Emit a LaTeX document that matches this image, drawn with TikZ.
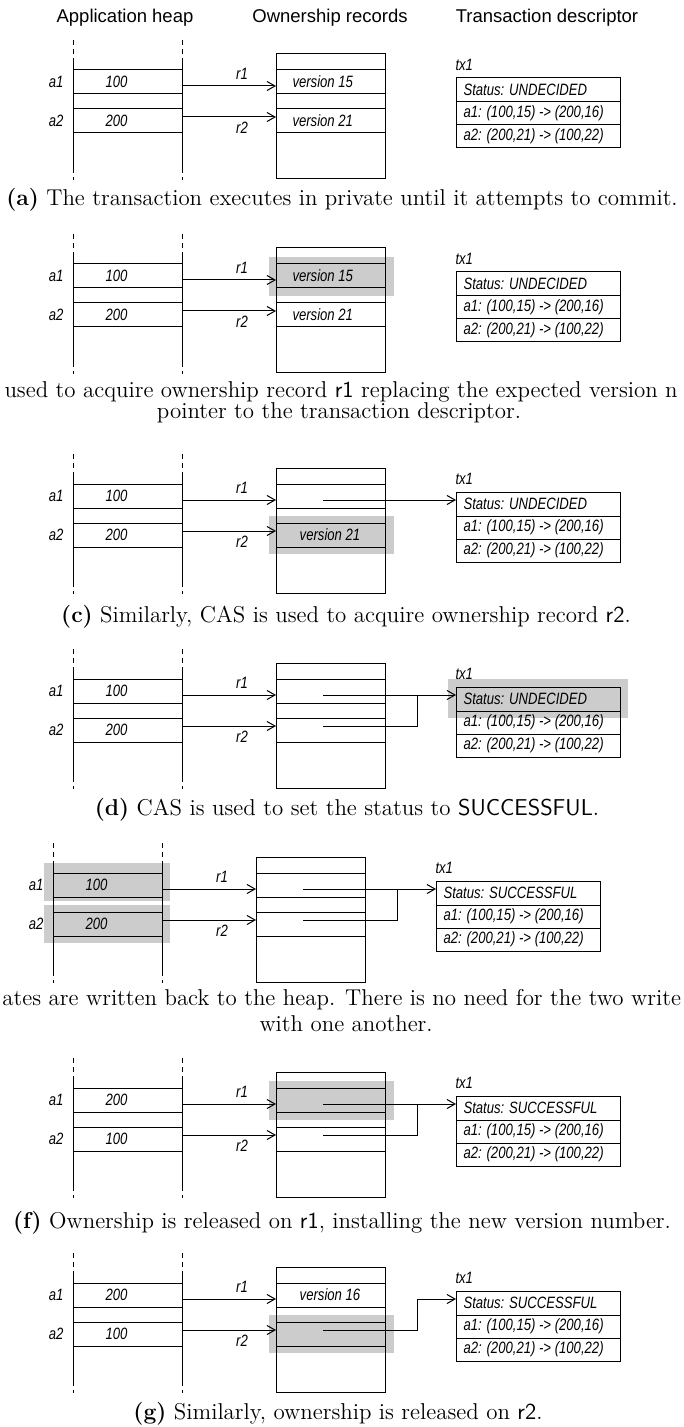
\documentclass[tikz,border=0pt]{standalone}
\usepackage{fontspec}
\newfontfamily\headfont{Liberation Sans}
\newfontfamily\cellfont[FakeStretch=0.8]{Liberation Sans}
\usetikzlibrary{arrows.meta}

\begin{document}
\begin{tikzpicture}
  [x=0.5pt,y=-0.5pt,line width=0.5pt,
  head/.style={font=\headfont\fontsize{9.25}{11}\selectfont,inner sep=0pt},
  lbl/.style={font=\cellfont\itshape\fontsize{8.2}{9.8}\selectfont,inner sep=0pt},
  capt/.style={font=\fontsize{11.45}{13.7}\selectfont,inner sep=0pt},
  gap/.style={dash pattern=on 2.5pt off 2pt},
  shade/.style={fill=black!20,draw=none},
  ptr/.style={-{Straight Barb[length=4pt,width=4.5pt]}}]

  \useasboundingbox (0,0) rectangle (684,1427);

  \node[head] (heap) at (125,18) {Application heap};
  \node[head] (orec) at (330,18) {Ownership records};
  \node[head] (desc) at (547,18) {Transaction descriptor};

  % (a) private execution
  \begin{scope}[name prefix=a-]
    \draw[gap] (73,40) -- (73,63) (182,40) -- (182,63) (73,168) -- (73,180) (182,168) -- (182,180);
    \draw (73,63) -- (73,168) (182,63) -- (182,168);
    \draw (73,70) -- (182,70) (73,94) -- (182,94) (73,109) -- (182,109) (73,133) -- (182,133);
    \node[lbl,anchor=east] (a1) at (64,82) {a1};
    \node[lbl,anchor=east] (a2) at (64,121) {a2};
    \node[lbl,anchor=west] (v1) at (105,82) {100};
    \node[lbl,anchor=west] (v2) at (105,121) {200};
    \draw (276,54) rectangle (385,179);
    \draw (276,70) -- (385,70) (276,94) -- (385,94) (276,109) -- (385,109) (276,133) -- (385,133);
    \node[lbl] (r1) at (242,74) {r1};
    \node[lbl] (r2) at (242,128) {r2};
    \node[lbl,anchor=west] (o1) at (292,82) {version 15};
    \node[lbl,anchor=west] (o2) at (292,121) {version 21};
    \coordinate (h1) at (182,86); \coordinate (h2) at (182,117);
    \coordinate (e1) at (276,86); \coordinate (e2) at (276,117);
    \draw[ptr] (h1) -- (e1);
    \draw[ptr] (h2) -- (e2);
    \node[lbl,anchor=west] (tx) at (455,65) {tx1};
    \draw (456,78) rectangle (620,148);
    \draw (456,102) -- (620,102) (456,125) -- (620,125);
    \node[lbl,anchor=west] (st) at (463,90) {Status: UNDECIDED};
    \node[lbl,anchor=west] (w1) at (463,113.5) {a1: (100,15) -> (200,16)};
    \node[lbl,anchor=west] (w2) at (463,136.5) {a2: (200,21) -> (100,22)};
  \end{scope}

  % (b) r1 acquired
  \begin{scope}[shift={(0,194)},name prefix=b-]
    \fill[shade] (269,63) rectangle (394,102);
    \draw[gap] (73,40) -- (73,63) (182,40) -- (182,63) (73,168) -- (73,180) (182,168) -- (182,180);
    \draw (73,63) -- (73,168) (182,63) -- (182,168);
    \draw (73,70) -- (182,70) (73,94) -- (182,94) (73,109) -- (182,109) (73,133) -- (182,133);
    \node[lbl,anchor=east] (a1) at (64,82) {a1};
    \node[lbl,anchor=east] (a2) at (64,121) {a2};
    \node[lbl,anchor=west] (v1) at (105,82) {100};
    \node[lbl,anchor=west] (v2) at (105,121) {200};
    \draw (276,54) rectangle (385,179);
    \draw (276,70) -- (385,70) (276,94) -- (385,94) (276,109) -- (385,109) (276,133) -- (385,133);
    \node[lbl] (r1) at (242,74) {r1};
    \node[lbl] (r2) at (242,128) {r2};
    \node[lbl,anchor=west] (o1) at (292,82) {version 15};
    \node[lbl,anchor=west] (o2) at (292,121) {version 21};
    \coordinate (h1) at (182,86); \coordinate (h2) at (182,117);
    \coordinate (e1) at (276,86); \coordinate (e2) at (276,117);
    \draw[ptr] (h1) -- (e1);
    \draw[ptr] (h2) -- (e2);
    \node[lbl,anchor=west] (tx) at (455,65) {tx1};
    \draw (456,78) rectangle (620,148);
    \draw (456,102) -- (620,102) (456,125) -- (620,125);
    \node[lbl,anchor=west] (st) at (463,90) {Status: UNDECIDED};
    \node[lbl,anchor=west] (w1) at (463,113.5) {a1: (100,15) -> (200,16)};
    \node[lbl,anchor=west] (w2) at (463,136.5) {a2: (200,21) -> (100,22)};
  \end{scope}

  % (c) r2 acquired
  \begin{scope}[shift={(0,414)},name prefix=c-]
    \fill[shade] (269,102) rectangle (394,140);
    \draw[gap] (73,40) -- (73,63) (182,40) -- (182,63) (73,168) -- (73,180) (182,168) -- (182,180);
    \draw (73,63) -- (73,168) (182,63) -- (182,168);
    \draw (73,70) -- (182,70) (73,94) -- (182,94) (73,109) -- (182,109) (73,133) -- (182,133);
    \node[lbl,anchor=east] (a1) at (64,82) {a1};
    \node[lbl,anchor=east] (a2) at (64,121) {a2};
    \node[lbl,anchor=west] (v1) at (105,82) {100};
    \node[lbl,anchor=west] (v2) at (105,121) {200};
    \draw (276,54) rectangle (385,179);
    \draw (276,70) -- (385,70) (276,94) -- (385,94) (276,109) -- (385,109) (276,133) -- (385,133);
    \node[lbl] (r1) at (242,74) {r1};
    \node[lbl] (r2) at (242,128) {r2};
    \node[lbl] (o2) at (330,121) {version 21};
    \coordinate (h1) at (182,86); \coordinate (h2) at (182,117);
    \coordinate (e1) at (276,86); \coordinate (e2) at (276,117);
    \coordinate (p1) at (323,86); \coordinate (t) at (456,86);
    \draw[ptr] (h1) -- (e1);
    \draw[ptr] (h2) -- (e2);
    \draw[ptr] (p1) -- (t);
    \node[lbl,anchor=west] (tx) at (455,65) {tx1};
    \draw (456,78) rectangle (620,148);
    \draw (456,102) -- (620,102) (456,125) -- (620,125);
    \node[lbl,anchor=west] (st) at (463,90) {Status: UNDECIDED};
    \node[lbl,anchor=west] (w1) at (463,113.5) {a1: (100,15) -> (200,16)};
    \node[lbl,anchor=west] (w2) at (463,136.5) {a2: (200,21) -> (100,22)};
  \end{scope}

  % (d) status set
  \begin{scope}[shift={(0,609)},name prefix=d-]
    \fill[shade] (448,70) rectangle (628,109);
    \draw[gap] (73,40) -- (73,63) (182,40) -- (182,63) (73,168) -- (73,180) (182,168) -- (182,180);
    \draw (73,63) -- (73,168) (182,63) -- (182,168);
    \draw (73,70) -- (182,70) (73,94) -- (182,94) (73,109) -- (182,109) (73,133) -- (182,133);
    \node[lbl,anchor=east] (a1) at (64,82) {a1};
    \node[lbl,anchor=east] (a2) at (64,121) {a2};
    \node[lbl,anchor=west] (v1) at (105,82) {100};
    \node[lbl,anchor=west] (v2) at (105,121) {200};
    \draw (276,54) rectangle (385,179);
    \draw (276,70) -- (385,70) (276,94) -- (385,94) (276,109) -- (385,109) (276,133) -- (385,133);
    \node[lbl] (r1) at (242,74) {r1};
    \node[lbl] (r2) at (242,128) {r2};
    \coordinate (h1) at (182,86); \coordinate (h2) at (182,117);
    \coordinate (e1) at (276,86); \coordinate (e2) at (276,117);
    \coordinate (p1) at (323,86); \coordinate (p2) at (323,117);
    \coordinate (j) at (417,86); \coordinate (t) at (456,86);
    \draw[ptr] (h1) -- (e1);
    \draw[ptr] (h2) -- (e2);
    \draw[ptr] (p1) -- (t);
    \draw (p2) -| (j);
    \node[lbl,anchor=west] (tx) at (455,65) {tx1};
    \draw (456,78) rectangle (620,148);
    \draw (456,102) -- (620,102) (456,125) -- (620,125);
    \node[lbl,anchor=west] (st) at (463,90) {Status: UNDECIDED};
    \node[lbl,anchor=west] (w1) at (463,113.5) {a1: (100,15) -> (200,16)};
    \node[lbl,anchor=west] (w2) at (463,136.5) {a2: (200,21) -> (100,22)};
  \end{scope}

  % (e) write back
  \begin{scope}[shift={(-20,803)},name prefix=e-]
    \fill[shade] (64,60) rectangle (190,98);
    \fill[shade] (64,102) rectangle (190,140);
    \draw[gap] (73,40) -- (73,63) (182,40) -- (182,63) (73,168) -- (73,180) (182,168) -- (182,180);
    \draw (73,63) -- (73,168) (182,63) -- (182,168);
    \draw (73,70) -- (182,70) (73,94) -- (182,94) (73,109) -- (182,109) (73,133) -- (182,133);
    \node[lbl,anchor=east] (a1) at (64,82) {a1};
    \node[lbl,anchor=east] (a2) at (64,121) {a2};
    \node[lbl,anchor=west] (v1) at (105,82) {100};
    \node[lbl,anchor=west] (v2) at (105,121) {200};
    \draw (276,54) rectangle (385,179);
    \draw (276,70) -- (385,70) (276,94) -- (385,94) (276,109) -- (385,109) (276,133) -- (385,133);
    \node[lbl] (r1) at (242,74) {r1};
    \node[lbl] (r2) at (242,128) {r2};
    \coordinate (h1) at (182,86); \coordinate (h2) at (182,117);
    \coordinate (e1) at (276,86); \coordinate (e2) at (276,117);
    \coordinate (p1) at (323,86); \coordinate (p2) at (323,117);
    \coordinate (j) at (417,86); \coordinate (t) at (456,86);
    \draw[ptr] (h1) -- (e1);
    \draw[ptr] (h2) -- (e2);
    \draw[ptr] (p1) -- (t);
    \draw (p2) -| (j);
    \node[lbl,anchor=west] (tx) at (455,65) {tx1};
    \draw (456,78) rectangle (620,148);
    \draw (456,102) -- (620,102) (456,125) -- (620,125);
    \node[lbl,anchor=west] (st) at (463,90) {Status: SUCCESSFUL};
    \node[lbl,anchor=west] (w1) at (463,113.5) {a1: (100,15) -> (200,16)};
    \node[lbl,anchor=west] (w2) at (463,136.5) {a2: (200,21) -> (100,22)};
  \end{scope}

  % (f) r1 released
  \begin{scope}[shift={(0,1018)},name prefix=f-]
    \fill[shade] (269,63) rectangle (394,102);
    \draw[gap] (73,40) -- (73,63) (182,40) -- (182,63) (73,168) -- (73,180) (182,168) -- (182,180);
    \draw (73,63) -- (73,168) (182,63) -- (182,168);
    \draw (73,70) -- (182,70) (73,94) -- (182,94) (73,109) -- (182,109) (73,133) -- (182,133);
    \node[lbl,anchor=east] (a1) at (64,82) {a1};
    \node[lbl,anchor=east] (a2) at (64,121) {a2};
    \node[lbl,anchor=west] (v1) at (105,82) {200};
    \node[lbl,anchor=west] (v2) at (105,121) {100};
    \draw (276,54) rectangle (385,179);
    \draw (276,70) -- (385,70) (276,94) -- (385,94) (276,109) -- (385,109) (276,133) -- (385,133);
    \node[lbl] (r1) at (242,74) {r1};
    \node[lbl] (r2) at (242,128) {r2};
    \coordinate (h1) at (182,86); \coordinate (h2) at (182,117);
    \coordinate (e1) at (276,86); \coordinate (e2) at (276,117);
    \coordinate (p1) at (323,86); \coordinate (p2) at (323,117);
    \coordinate (j) at (417,86); \coordinate (t) at (456,86);
    \draw[ptr] (h1) -- (e1);
    \draw[ptr] (h2) -- (e2);
    \draw[ptr] (p1) -- (t);
    \draw (p2) -| (j);
    \node[lbl,anchor=west] (tx) at (455,65) {tx1};
    \draw (456,78) rectangle (620,148);
    \draw (456,102) -- (620,102) (456,125) -- (620,125);
    \node[lbl,anchor=west] (st) at (463,90) {Status: SUCCESSFUL};
    \node[lbl,anchor=west] (w1) at (463,113.5) {a1: (100,15) -> (200,16)};
    \node[lbl,anchor=west] (w2) at (463,136.5) {a2: (200,21) -> (100,22)};
  \end{scope}

  % (g) r2 released
  \begin{scope}[shift={(0,1213)},name prefix=g-]
    \fill[shade] (269,102) rectangle (394,140);
    \draw[gap] (73,40) -- (73,63) (182,40) -- (182,63) (73,168) -- (73,180) (182,168) -- (182,180);
    \draw (73,63) -- (73,168) (182,63) -- (182,168);
    \draw (73,70) -- (182,70) (73,94) -- (182,94) (73,109) -- (182,109) (73,133) -- (182,133);
    \node[lbl,anchor=east] (a1) at (64,82) {a1};
    \node[lbl,anchor=east] (a2) at (64,121) {a2};
    \node[lbl,anchor=west] (v1) at (105,82) {200};
    \node[lbl,anchor=west] (v2) at (105,121) {100};
    \draw (276,54) rectangle (385,179);
    \draw (276,70) -- (385,70) (276,94) -- (385,94) (276,109) -- (385,109) (276,133) -- (385,133);
    \node[lbl] (r1) at (242,74) {r1};
    \node[lbl] (r2) at (242,128) {r2};
    \node[lbl] (o1) at (330,82) {version 16};
    \coordinate (h1) at (182,86); \coordinate (h2) at (182,117);
    \coordinate (e1) at (276,86); \coordinate (e2) at (276,117);
    \coordinate (p2) at (323,117);
    \coordinate (j) at (417,86); \coordinate (t) at (456,86);
    \draw[ptr] (h1) -- (e1);
    \draw[ptr] (h2) -- (e2);
    \draw[ptr] (p2) -| (j) -- (t);
    \node[lbl,anchor=west] (tx) at (455,65) {tx1};
    \draw (456,78) rectangle (620,148);
    \draw (456,102) -- (620,102) (456,125) -- (620,125);
    \node[lbl,anchor=west] (st) at (463,90) {Status: SUCCESSFUL};
    \node[lbl,anchor=west] (w1) at (463,113.5) {a1: (100,15) -> (200,16)};
    \node[lbl,anchor=west] (w2) at (463,136.5) {a2: (200,21) -> (100,22)};
  \end{scope}

  % captions
  \node[capt] (capa) at (342,200) {\textbf{(a)} The transaction executes in private until it attempts to commit.};
  \node[capt,anchor=west] (capb1) at (4,392) {used to acquire ownership record \textsf{r1} replacing the expected version n};
  \node[capt] (capb2) at (339,413) {pointer to the transaction descriptor.};
  \node[capt] (capc) at (346,617) {\textbf{(c)} Similarly, CAS is used to acquire ownership record \textsf{r2}.};
  \node[capt] (capd) at (347,810) {\textbf{(d)} CAS is used to set the status to \textsf{SUCCESSFUL}.};
  \node[capt,anchor=west] (cape1) at (2,1000) {ates are written back to the heap. There is no need for the two write};
  \node[capt,anchor=west] (cape2) at (259,1024) {with one another.};
  \node[capt] (capf) at (342,1223) {\textbf{(f)} Ownership is released on \textsf{r1}, installing the new version number.};
  \node[capt] (capg) at (338,1414) {\textbf{(g)} Similarly, ownership is released on \textsf{r2}.};
\end{tikzpicture}
\end{document}
